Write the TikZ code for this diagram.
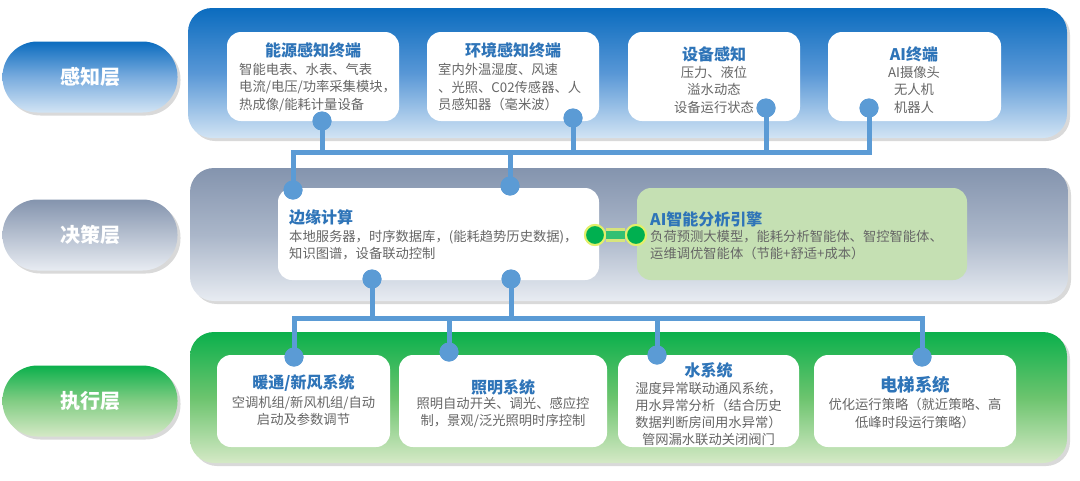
\documentclass[tikz,border=0pt]{standalone}
\usepackage{fontspec}
\setmainfont{Noto Sans CJK SC}
\usetikzlibrary{shadows}
\definecolor{conn}{HTML}{5B9BD5}
\definecolor{ttlblue}{HTML}{2E74B8}
\definecolor{bodgray}{HTML}{666666}
\definecolor{aigreen}{HTML}{C5E0B3}
\definecolor{linkgreen}{HTML}{00B050}
\definecolor{linkglow}{HTML}{E2F06A}
\definecolor{pAtop}{HTML}{0B6CBF}
\definecolor{pAmid}{HTML}{5897D6}
\definecolor{pAbot}{HTML}{D2E4F4}
\definecolor{pBtop}{HTML}{8494AE}
\definecolor{pBmid}{HTML}{AAB6C9}
\definecolor{pBbot}{HTML}{E8ECF2}
\definecolor{pCtop}{HTML}{0BB04C}
\definecolor{pCmid}{HTML}{6CC46E}
\definecolor{pCbot}{HTML}{D5E9C6}
\begin{document}
\begin{tikzpicture}[x=1pt,y=-1pt,
  pill/.style={rectangle, rounded corners=35pt, minimum width=175pt, minimum height=71pt, inner sep=0,
    drop shadow={shadow xshift=3pt, shadow yshift=-3pt, opacity=0.3},
    text=white, font=\fontsize{20}{24}\selectfont\bfseries},
  panel/.style={rectangle, rounded corners=24pt, inner sep=0,
    drop shadow={shadow xshift=3pt, shadow yshift=-3pt, opacity=0.3}},
  wbox/.style={rectangle, rounded corners=14pt, fill=white, inner sep=0},
  ttl/.style={font=\fontsize{16}{19}\selectfont\bfseries, text=ttlblue, inner sep=0},
  bod/.style={font=\fontsize{13.3}{17.5}\selectfont, text=bodgray, inner sep=0},
  dot/.style={circle, fill=conn, minimum size=19pt, inner sep=0},
  bus/.style={draw=conn, line width=5pt},
  gdot/.style={circle, fill=linkgreen, draw=linkglow, line width=2pt, minimum size=20pt, inner sep=0}
]
\useasboundingbox (0,0) rectangle (1080,480);

% layer labels
\node[pill, top color=pAtop, bottom color=pAbot, middle color=pAmid!80!white] (L1) at (90,77) {感知层};
\node[pill, top color=pBtop, bottom color=pBbot] (L2) at (90,235) {决策层};
\node[pill, top color=pCtop, bottom color=pCbot, middle color=pCmid!85!white] (L3) at (90,401) {执行层};

% panels
\node[panel, minimum width=879pt, minimum height=130pt, top color=pAtop, bottom color=pAbot, middle color=pAmid] (P1) at (627.5,73) {};
\node[panel, minimum width=878pt, minimum height=133pt, top color=pBtop, bottom color=pBbot, middle color=pBmid] (P2) at (629,234.5) {};
\node[panel, minimum width=877pt, minimum height=131pt, top color=pCtop, bottom color=pCbot, middle color=pCmid] (P3) at (628.5,397.5) {};

% top boxes
\node[wbox, minimum width=172pt, minimum height=89pt] (b1) at (313,76.5) {};
\node[wbox, minimum width=172pt, minimum height=89pt] (b2) at (513,76.5) {};
\node[wbox, minimum width=172pt, minimum height=89pt] (b3) at (714,76.5) {};
\node[wbox, minimum width=173pt, minimum height=89pt] (b4) at (914.5,76.5) {};

% middle boxes
\node[wbox, minimum width=321pt, minimum height=92pt] (e) at (438.5,234) {};
\node[wbox, fill=aigreen, minimum width=330pt, minimum height=92pt] (a) at (802,234) {};

% bottom boxes
\node[wbox, minimum width=173pt, minimum height=92pt] (c1) at (303.5,401) {};
\node[wbox, minimum width=208pt, minimum height=92pt] (c2) at (503,401) {};
\node[wbox, minimum width=181pt, minimum height=92pt] (c3) at (708.5,401) {};
\node[wbox, minimum width=202pt, minimum height=92pt] (c4) at (915,401) {};

% texts top
\node[ttl] (b1t) at (313,50) {能源感知终端};
\node[bod, anchor=north west, align=left] (b1b) at (239,63) {智能电表、水表、气表\\电流/电压/功率采集模块，\\热成像/能耗计量设备};
\node[ttl] (b2t) at (513,50) {环境感知终端};
\node[bod, anchor=north west, align=left] (b2b) at (438,63) {室内外温湿度、风速\\、光照、C02传感器、人\\员感知器（毫米波）};
\node[ttl] (b3t) at (714,54) {设备感知};
\node[bod, anchor=north, align=center] (b3b) at (714,66) {压力、液位\\溢水动态\\设备运行状态};
\node[ttl] (b4t) at (914,54) {AI终端};
\node[bod, anchor=north, align=center] (b4b) at (914,66) {AI摄像头\\无人机\\机器人};

% texts middle
\node[ttl, anchor=west] (et) at (289,217) {边缘计算};
\node[bod, anchor=north west, align=left] (eb) at (289,230) {本地服务器，时序数据库，(能耗趋势历史数据)，\\知识图谱，设备联动控制};
\node[ttl, anchor=west] (at) at (650,219) {AI智能分析引擎};
\node[bod, anchor=north west, align=left] (ab) at (650,230) {负荷预测大模型，能耗分析智能体、智控智能体、\\运维调优智能体（节能+舒适+成本）};

% texts bottom
\node[ttl] (c1t) at (303.5,383) {暖通/新风系统};
\node[bod, anchor=north, align=center] (c1b) at (303.5,396) {空调机组/新风机组/自动\\启动及参数调节};
\node[ttl] (c2t) at (503,387) {照明系统};
\node[bod, anchor=north, align=center] (c2b) at (503,397) {照明自动开关、调光、感应控\\制，景观/泛光照明时序控制};
\node[ttl] (c3t) at (708.5,370) {水系统};
\node[bod, anchor=north, align=center, font=\fontsize{13.3}{17}\selectfont] (c3b) at (708.5,382) {湿度异常联动通风系统，\\用水异常分析（结合历史\\数据判断房间用水异常）\\管网漏水联动关闭阀门};
\node[ttl, font=\fontsize{17.5}{20}\selectfont\bfseries] (c4t) at (915,385) {电梯系统};
\node[bod, anchor=north, align=center] (c4b) at (915,398) {优化运行策略（就近策略、高\\低峰时段运行策略）};

% dots
\node[dot] (u1) at (322,121) {};
\node[dot] (u2) at (573,118) {};
\node[dot] (u3) at (766,108) {};
\node[dot] (u4) at (869,108) {};
\node[dot] (l1) at (293,190) {};
\node[dot] (l2) at (510,186) {};
\node[dot] (m1) at (372,279) {};
\node[dot] (m2) at (511,279) {};
\node[dot] (x1) at (294,357) {};
\node[dot] (x2) at (449,352) {};
\node[dot] (x3) at (657,355) {};
\node[dot] (x4) at (922,357) {};
\coordinate (tb) at (0,152);
\coordinate (bb) at (0,318);

% connectors
\begin{scope}[on background layer/.style={}]
\draw[bus] (l1.center) -- (l1.center |- tb) -- (u4.center |- tb) -- (u4.center);
\draw[bus] (u1.center) -- (u1.center |- tb);
\draw[bus] (u2.center) -- (u2.center |- tb);
\draw[bus] (u3.center) -- (u3.center |- tb);
\draw[bus] (l2.center) -- (l2.center |- tb);
\draw[bus] (x1.center) -- (x1.center |- bb) -- (x4.center |- bb) -- (x4.center);
\draw[bus] (m1.center) -- (m1.center |- bb);
\draw[bus] (m2.center) -- (m2.center |- bb);
\draw[bus] (x2.center) -- (x2.center |- bb);
\draw[bus] (x3.center) -- (x3.center |- bb);
\end{scope}
% redraw dots over connector ends
\foreach \d in {u1,u2,u3,u4,l1,l2,m1,m2,x1,x2,x3,x4}{\fill[conn] (\d) circle (9.5pt);}

% green link
\node[gdot] (g1) at (595,235) {};
\node[gdot] (g2) at (636,235) {};
\draw[linkglow, line width=14pt, opacity=0.8] (g1.east) -- (g2.west);
\draw[linkgreen!80!white, line width=8pt] (g1.east) -- (g2.west);
\node[gdot] at (g1) {};
\node[gdot] at (g2) {};
\end{tikzpicture}
\end{document}
